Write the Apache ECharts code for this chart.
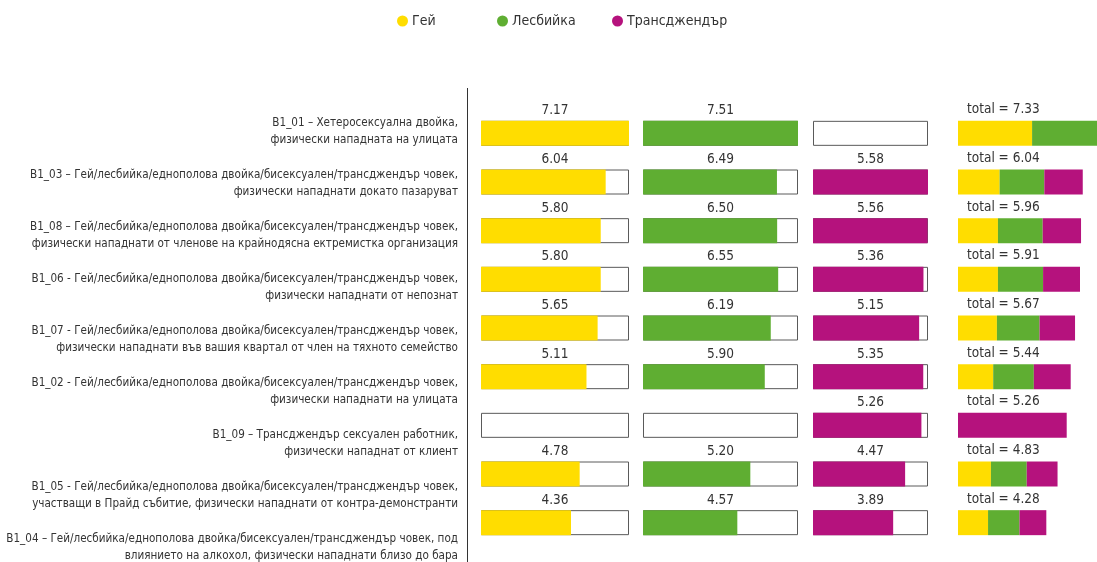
<!DOCTYPE html>
<html>
<head>
<meta charset="utf-8">
<script src="https://cdn.jsdelivr.net/npm/echarts@6/dist/echarts.min.js"></script>
<style>
html,body{margin:0;padding:0;background:#fff;}
#chart{width:1097px;height:562px;}
</style>
</head>
<body>
<div id="chart"></div>
<script>
var categories = [
	'B1_01 – Хетеросексуална двойка,\nфизически нападната на улицата',
	'B1_03 – Гей/лесбийка/еднополова двойка/бисексуален/трансджендър човек,\nфизически нападнати докато пазаруват',
	'B1_08 – Гей/лесбийка/еднополова двойка/бисексуален/трансджендър човек,\nфизически нападнати от членове на крайнодясна ектремистка организация',
	'B1_06 - Гей/лесбийка/еднополова двойка/бисексуален/трансджендър човек,\nфизически нападнати от непознат',
	'B1_07 - Гей/лесбийка/еднополова двойка/бисексуален/трансджендър човек,\nфизически нападнати във вашия квартал от член на тяхното семейство',
	'B1_02 - Гей/лесбийка/еднополова двойка/бисексуален/трансджендър човек,\nфизически нападнати на улицата',
	'B1_09 – Трансджендър сексуален работник,\nфизически нападнат от клиент',
	'B1_05 - Гей/лесбийка/еднополова двойка/бисексуален/трансджендър човек,\nучастващи в Прайд събитие, физически нападнати от контра-демонстранти',
	'B1_04 – Гей/лесбийка/еднополова двойка/бисексуален/трансджендър човек, под\nвлиянието на алкохол, физически нападнати близо до бара'
];
var gay = [7.17, 6.04, 5.80, 5.80, 5.65, 5.11, null, 4.78, 4.36];
var lesbian = [7.51, 6.49, 6.50, 6.55, 6.19, 5.90, null, 5.20, 4.57];
var trans = [null, 5.58, 5.56, 5.36, 5.15, 5.35, 5.26, 4.47, 3.89];
var totals = [7.33, 6.04, 5.96, 5.91, 5.67, 5.44, 5.26, 4.83, 4.28];

var names = ['Гей', 'Лесбийка', 'Трансджендър'];
var colors = ['#FFDD00', '#5FAE32', '#B5127D'];
var groups = [gay, lesbian, trans];

var font = '"DejaVu Sans Condensed", "Roboto", sans-serif';
var txt = '#333';

var myChart = echarts.init(document.getElementById('chart'));

// сетка: етикети + 3 панела + общо
var grids = [
	{left: 467, top: 105, width: 1, height: 468},
	{left: 481, top: 109, width: 148, height: 438},
	{left: 643, top: 109, width: 155, height: 438},
	{left: 813, top: 109, width: 115, height: 438},
	{left: 958, top: 109, width: 155, height: 438}
];
grids.forEach(function (g) { g.outerBoundsMode = 'none'; });

var xAxes = [{gridIndex: 0, type: 'value', show: false}];
var yAxes = [{
	gridIndex: 0, type: 'category', data: categories, inverse: true,
	axisLine: {show: false}, axisTick: {show: false},
	axisLabel: {margin: 9, fontFamily: font, fontSize: 11.6, lineHeight: 17, color: txt, align: 'right'}
}];
var series = [];

groups.forEach(function (vals, i) {
	var max = Math.max.apply(null, vals.filter(function (v) { return v != null; }));
	xAxes.push({gridIndex: i + 1, type: 'value', min: 0, max: max, show: false});
	yAxes.push({gridIndex: i + 1, type: 'category', data: categories, inverse: true, show: false});
	// рамка
	series.push({
		type: 'bar', xAxisIndex: i + 1, yAxisIndex: i + 1, silent: true,
		barWidth: 25, barGap: '-100%',
		data: vals.map(function () { return max; }),
		itemStyle: {color: '#fff', borderColor: '#5a5a5a', borderWidth: 1},
		label: {
			show: true, position: 'top', distance: 3,
			fontFamily: font, fontSize: 13.5, color: txt,
			formatter: function (p) {
				var v = vals[p.dataIndex];
				return v == null ? '' : v.toFixed(2);
			}
		}
	});
	series.push({
		name: names[i], type: 'bar', xAxisIndex: i + 1, yAxisIndex: i + 1,
		barWidth: 25, barGap: '-100%',
		data: vals, itemStyle: {color: colors[i]}
	});
});

// общо
xAxes.push({gridIndex: 4, type: 'value', min: 0, max: 7.5, show: false});
yAxes.push({gridIndex: 4, type: 'category', data: categories, inverse: true, show: false});
series.push({
	type: 'bar', xAxisIndex: 4, yAxisIndex: 4, silent: true,
	barWidth: 25, barGap: '-100%',
	data: totals, itemStyle: {color: 'rgba(0,0,0,0)'},
	label: {
		show: true, position: [9, -11], verticalAlign: 'middle', align: 'left',
		fontFamily: font, fontSize: 13.5, color: txt,
		formatter: function (p) { return 'total = ' + p.value.toFixed(2); }
	}
});
groups.forEach(function (vals, i) {
	var share = vals.map(function (v, k) {
		if (v == null) return null;
		var n = groups.filter(function (g) { return g[k] != null; }).length;
		return v / n;
	});
	series.push({
		name: names[i], type: 'bar', xAxisIndex: 4, yAxisIndex: 4, stack: 'total',
		barWidth: 25, barGap: '-100%',
		data: share, itemStyle: {color: colors[i]}
	});
});

var legendLeft = [392, 492, 607];
var legends = names.map(function (n, i) {
	return {
		data: [n], left: legendLeft[i], top: 9, icon: 'circle',
		itemWidth: 11, itemHeight: 11, itemGap: 0,
		textStyle: {fontFamily: font, fontSize: 14, color: txt, padding: [0, 0, 0, -1]}
	};
});

var option = {
	animation: false,
	legend: legends,
	grid: grids,
	xAxis: xAxes,
	yAxis: yAxes,
	series: series,
	graphic: [{
		type: 'line', silent: true,
		shape: {x1: 467.5, y1: 88, x2: 467.5, y2: 562},
		style: {stroke: '#333', lineWidth: 1}
	}]
};
myChart.setOption(option);
</script>
</body>
</html>
